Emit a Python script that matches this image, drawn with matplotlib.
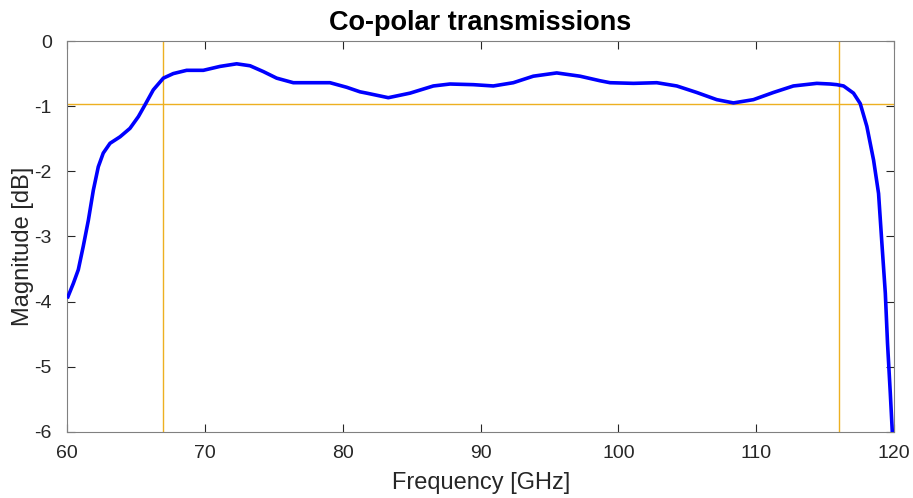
import matplotlib
matplotlib.use("Agg")
import matplotlib.pyplot as plt

# Co-polar transmission magnitude vs. frequency
freq_ghz = [60.02, 60.46, 60.82, 61.18, 61.55, 61.91, 62.27, 62.63, 63.12, 63.85,
            64.57, 65.18, 65.66, 66.26, 66.99, 67.71, 68.68, 69.89, 71.1, 72.31,
            73.28, 74.25, 75.21, 76.42, 77.87, 79.08, 80.29, 81.26, 81.74, 83.31,
            84.89, 86.58, 87.79, 89.48, 90.93, 92.38, 93.83, 95.53, 97.22, 98.67,
            99.40, 101.1, 102.79, 104.24, 105.69, 107.14, 108.35, 109.8, 111.25, 112.7,
            114.4, 115.37, 115.85, 116.34, 117.06, 117.55, 118.03, 118.52, 118.88, 119.12,
            119.37, 119.53, 119.73, 119.87, 119.95]
mag_db = [-3.95, -3.72, -3.51, -3.15, -2.75, -2.29, -1.93, -1.72, -1.57, -1.47,
          -1.34, -1.16, -0.98, -0.75, -0.57, -0.50, -0.45, -0.45, -0.39, -0.35,
          -0.38, -0.47, -0.57, -0.64, -0.64, -0.64, -0.71, -0.78, -0.80, -0.87,
          -0.80, -0.69, -0.66, -0.67, -0.69, -0.64, -0.54, -0.49, -0.54, -0.61,
          -0.64, -0.65, -0.64, -0.69, -0.79, -0.90, -0.95, -0.90, -0.79, -0.69,
          -0.65, -0.66, -0.67, -0.69, -0.80, -0.96, -1.31, -1.83, -2.34, -3.10,
          -3.87, -4.64, -5.40, -5.97, -6.3]

band_edges_ghz = [67, 116]
ref_level_db = -0.97

xticks = [60, 70, 80, 90, 100, 110, 120]
yticks = [0, -1, -2, -3, -4, -5, -6]

plt.rcParams['font.family'] = ['Liberation Sans', 'DejaVu Sans']

fig = plt.figure(figsize=(9.13, 4.98), dpi=100)
ax = fig.add_axes([67/913, 1 - 432/498, (894 - 67)/913, (432 - 41)/498])

# band-edge and reference-level guide lines
guide_color = (0.93, 0.69, 0.13)
for f in band_edges_ghz:
    ax.axvline(f, color=guide_color, lw=1.0, zorder=1)
ax.axhline(ref_level_db, color=guide_color, lw=1.0, zorder=1)

ax.plot(freq_ghz, mag_db, color=(0, 0, 1), lw=2.6, zorder=3,
        solid_joinstyle='round', solid_capstyle='butt')

ax.set_xlim(60, 120)
ax.set_ylim(-6, 0)
ax.set_xticks(xticks)
ax.set_yticks(yticks)
ax.set_xticklabels([str(t) for t in xticks])
ax.set_yticklabels([str(t) for t in yticks])

axis_gray = (0.15, 0.15, 0.15)
for sp in ax.spines.values():
    sp.set_color((0.5, 0.5, 0.5))
    sp.set_linewidth(0.8)
ax.tick_params(direction='in', length=6, width=0.8, color=axis_gray,
               labelsize=14, labelcolor=axis_gray, top=True, right=True)
ax.tick_params(axis='x', pad=9)
ax.tick_params(axis='y', pad=11)

ax.set_xlabel('Frequency [GHz]', fontsize=17, color=axis_gray)
ax.set_ylabel('Magnitude [dB]', fontsize=17, color=axis_gray)
ax.set_title('Co-polar transmissions', fontsize=19.5, fontweight='bold', color='black', pad=8)

# axis labels at fixed positions in the figure
ax.xaxis.set_label_coords(481 / 913, 1 - 483 / 498, transform=fig.transFigure)
ax.yaxis.set_label_coords(23 / 913, 1 - 246 / 498, transform=fig.transFigure)
ax.xaxis.label.set_va('center')
ax.yaxis.label.set_va('center')

fig.savefig('out.png', dpi=100)
